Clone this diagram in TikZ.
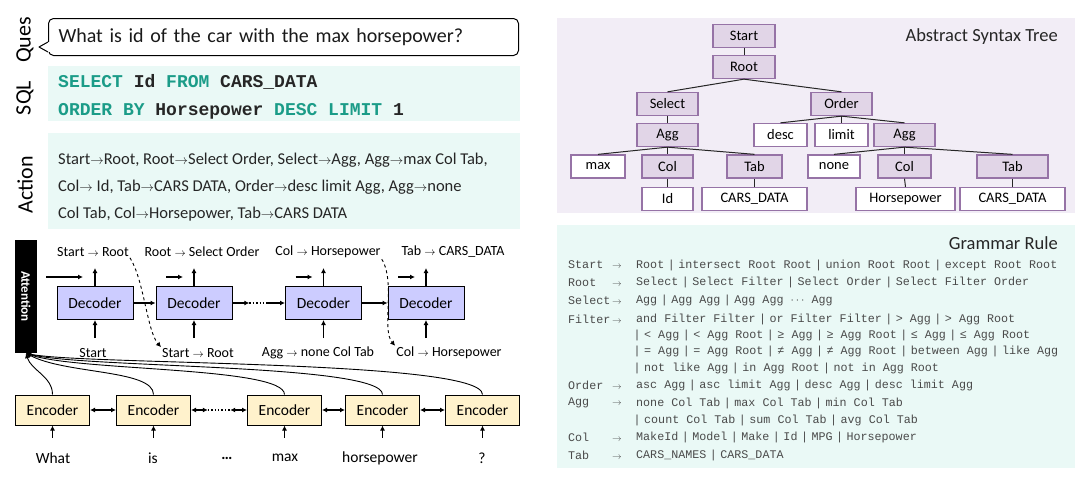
\documentclass[tikz,border=0pt]{standalone}
\usepackage{fontspec}
\setmainfont{Carlito}
\newfontfamily\monofont{Liberation Mono}
\usetikzlibrary{arrows.meta,calc}
\definecolor{teal1}{HTML}{1B9C88}
\definecolor{cyanbg}{HTML}{EAF9F6}
\definecolor{astbg}{HTML}{F2EDF6}
\definecolor{astfill}{HTML}{E1D5E7}
\definecolor{astline}{HTML}{9673A6}
\definecolor{decfill}{HTML}{CCCCFF}
\definecolor{encfill}{HTML}{FFF2CC}
\definecolor{gram}{HTML}{4A4A4A}
\newcommand\kw[1]{\textcolor{teal1}{#1}}
\newcommand\myarr{\scalebox{0.78}{$\rightarrow$}}
\newcommand\gsep{\makebox[14pt]{|}}
\newcommand\lhs[1]{\makebox[44pt][l]{#1}\scalebox{0.8}{$\rightarrow$}}
\begin{document}
\begin{tikzpicture}[x=1pt,y=-1pt,>={Latex[length=5pt,width=5pt]},
  sidelab/.style={rotate=90,font=\fontsize{22}{22}\selectfont},
  panel/.style={fill=cyanbg,draw=none,anchor=north west,inner sep=0pt},
  sqlt/.style={anchor=base west,inner sep=0pt,font=\monofont\bfseries\fontsize{18}{18}\selectfont,text=black!85},
  actt/.style={anchor=base west,inner sep=0pt,font=\fontsize{16.5}{16.5}\selectfont,text=black!85},
  dec/.style={draw,line width=1pt,fill=decfill,minimum width=76pt,minimum height=33pt,inner sep=0pt,font=\fontsize{15.5}{15.5}\selectfont},
  enc/.style={draw,line width=1pt,fill=encfill,minimum width=74pt,minimum height=30pt,inner sep=0pt,font=\fontsize{15.5}{15.5}\selectfont},
  dlab/.style={inner sep=1pt,font=\fontsize{14}{14}\selectfont},
  wlab/.style={inner sep=1pt,font=\fontsize{15.5}{15.5}\selectfont},
  arr/.style={->,line width=1.1pt},
  astn/.style={draw=astline,fill=astfill,line width=1.3pt,minimum height=23pt,inner sep=0pt,font=\fontsize{14.5}{14.5}\selectfont},
  astw/.style={astn,fill=white},
  astl/.style={line width=1pt,draw=black!85},
  gl/.style={anchor=west,inner sep=0pt,font=\monofont\fontsize{11.7}{11.7}\selectfont,text=gram},
  title/.style={anchor=east,inner sep=0pt,font=\fontsize{18.5}{18.5}\selectfont,text=black!85}
]
\useasboundingbox (0,0) rectangle (1080,482);

% ---------- left top ----------
\node[sidelab] (lq) at (25,40) {Ques};
\node[sidelab] (ls) at (25,98) {SQL};
\node[sidelab] (la) at (25,185) {Action};

\node[draw,line width=1pt,rounded corners=5pt,anchor=north west,minimum width=470pt,minimum height=37pt,
      text width=450pt,inner xsep=10pt,font=\fontsize{20}{20}\selectfont,text=black!90] (q) at (48,18)
      {What is id of the car with the max horsepower?};
\fill[white] ($(q.south west)+(-1.5,-14)$) rectangle ($(q.south west)+(1.5,-4)$);
\draw[line width=1pt,line join=round] ($(q.south west)+(0,-14)$) -- ($(q.south west)+(-9,-9)$) -- ($(q.south west)+(0,-4)$);

\node[panel,minimum width=472pt,minimum height=55pt] (sqlbox) at (48,66) {};
\node[sqlt] (s1) at (58,87) {\kw{SELECT} Id \kw{FROM} CARS\_DATA};
\node[sqlt] (s2) at (58,115) {\kw{ORDER BY} Horsepower \kw{DESC LIMIT} 1};

\node[panel,minimum width=472pt,minimum height=96pt] (actbox) at (48,133) {};
\node[actt] (a1) at (58,164) {Start\myarr Root, Root\myarr Select Order, Select\myarr Agg, Agg\myarr max Col Tab,};
\node[actt] (a2) at (58,191) {Col\myarr\ Id, Tab\myarr CARS DATA, Order\myarr desc limit Agg, Agg\myarr none};
\node[actt] (a3) at (58,218) {Col Tab, Col\myarr Horsepower, Tab\myarr CARS DATA};

% ---------- decoder / encoder ----------
\node[fill=black,minimum width=22pt,minimum height=113pt,inner sep=0pt] (att) at (26,296.5) {};
\node[rotate=-90,text=white,font=\bfseries\fontsize{13}{13}\selectfont] (attl) at (att.center) {Attention};

\node[dec] (d1) at (95,303) {Decoder};
\node[dec] (d2) at (194,303) {Decoder};
\node[dec] (d3) at (323.5,303) {Decoder};
\node[dec] (d4) at (426,303) {Decoder};

\node[dlab] (t1) at (93,252) {Start \myarr\ Root};
\node[dlab] (t2) at (202,252) {Root \myarr\ Select Order};
\node[dlab] (t3) at (328,252) {Col \myarr\ Horsepower};
\node[dlab] (t4) at (453,252) {Tab \myarr\ CARS\_DATA};

\node[dlab] (b1) at (93,353) {Start};
\node[dlab] (b2) at (198,353) {Start \myarr\ Root};
\node[dlab] (b3) at (318,353) {Agg \myarr\ none Col Tab};
\node[dlab] (b4) at (449,353) {Col \myarr\ Horsepower};

\foreach \d in {d1,d2,d3,d4}{
  \draw[arr] (\d.north) -- ++(0,-18);
  \draw[arr] ($(\d.south)+(0,18)$) -- (\d.south);
}
\draw[arr] ($(d1.north)+(-49,-9)$) -- ($(d1.north)+(-12,-9)$);
\foreach \d in {d2,d3,d4}{
  \draw[arr] ($(\d.north)+(-28,-9)$) -- ($(\d.north)+(-11,-9)$);
}
\draw[arr] (d1.east) -- (d2.west);
\path (d2.east) -- (d3.west) coordinate[pos=0.32] (dm1) coordinate[pos=0.68] (dm2);
\draw[arr] (d2.east) -- (dm1);
\draw[line width=1.4pt,dotted] (dm1) -- (dm2);
\draw[arr] (dm2) -- (d3.west);
\draw[arr] (d3.east) -- (d4.west);

\draw[->,line width=0.9pt,dashed] (t1.south east) .. controls +(14,22) and +(-14,-16) .. (b2.north west);
\draw[->,line width=0.9pt,dashed] (t3.south east) .. controls +(14,22) and +(-14,-16) .. (b4.north west);

\node[enc] (e1) at (52.5,410) {Encoder};
\node[enc] (e2) at (153.5,410) {Encoder};
\node[enc] (e3) at (284.5,410) {Encoder};
\node[enc] (e4) at (382.5,410) {Encoder};
\node[enc] (e5) at (482.5,410) {Encoder};

\node[wlab] (w1) at (53,458) {What};
\node[wlab] (w2) at (153,458) {is};
\node[wlab,font=\bfseries\fontsize{15.5}{15.5}\selectfont] (w3) at (227,458) {…};
\node[wlab] (w4) at (285,458) {max};
\node[wlab] (w5) at (380,458) {horsepower};
\node[wlab] (w6) at (482,458) {?};

\foreach \e in {e1,e2,e3,e4,e5}{
  \draw[arr] ($(\e.south)+(0,12)$) -- (\e.south);
}
\draw[<->,line width=1.1pt] (e1.east) -- (e2.west);
\path (e2.east) -- (e3.west) coordinate[pos=0.3] (em1) coordinate[pos=0.7] (em2);
\draw[<->,line width=1.1pt] (e2.east) -- (em1);
\draw[line width=1.4pt,dotted] (em1) -- (em2);
\draw[<->,line width=1.1pt] (em2) -- (e3.west);
\draw[<->,line width=1.1pt] (e3.east) -- (e4.west);
\draw[<->,line width=1.1pt] (e4.east) -- (e5.west);

\draw[->,line width=0.9pt] (e1.north) .. controls +(0,-18) and +(5,17) .. (att.south);
\draw[->,line width=0.9pt] (e2.north) .. controls +(0,-25) and +(39,21) .. (att.south);
\draw[->,line width=0.9pt] (e3.north) .. controls +(0,-28) and +(49,18) .. (att.south);
\draw[->,line width=0.9pt] (e4.north) .. controls +(0,-31) and +(54,15) .. (att.south);
\draw[->,line width=0.9pt] (e5.north) .. controls +(0,-35) and +(54,12) .. (att.south);

% ---------- AST ----------
\node[fill=astbg,anchor=north west,minimum width=518pt,minimum height=195pt,inner sep=0pt] (astbox) at (557,18) {};
\node[title] (astt) at (1058,37) {Abstract Syntax Tree};

\node[astn,minimum width=62pt] (st) at (744,36) {Start};
\node[astn,minimum width=62pt] (rt) at (744,67) {Root};
\node[astn,minimum width=61pt] (sel) at (667.5,104) {Select};
\node[astn,minimum width=61pt] (ord) at (841.5,104) {Order};
\node[astn,minimum width=61pt] (ag1) at (667.5,135) {Agg};
\node[astw,minimum width=53pt] (dsc) at (780.5,135) {desc};
\node[astw,minimum width=53pt] (lim) at (841.5,135) {limit};
\node[astn,minimum width=61pt] (ag2) at (904.5,135) {Agg};
\node[astw,minimum width=54pt] (mx) at (598,166.5) {max};
\node[astn,minimum width=51pt] (c1) at (667.5,166.5) {Col};
\node[astn,minimum width=55pt] (tb1) at (754.5,166.5) {Tab};
\node[astw,minimum width=52pt] (nn) at (834,166.5) {none};
\node[astn,minimum width=53pt] (c2) at (904.5,166.5) {Col};
\node[astn,minimum width=71pt] (tb2) at (1012.5,166.5) {Tab};
\node[astw,minimum width=51pt] (idn) at (667.5,199) {Id};
\node[astw,minimum width=105pt] (cd1) at (754.5,199) {CARS\_DATA};
\node[astw,minimum width=99pt] (hp) at (905.5,199) {Horsepower};
\node[astw,minimum width=105pt] (cd2) at (1012.5,199) {CARS\_DATA};

\draw[astl] (st.south) -- (rt.north);
\draw[astl] (rt.south) -- (sel.north);
\draw[astl] (rt.south) -- (ord.north);
\draw[astl] (sel.south) -- (ag1.north);
\draw[astl] (ag1.south) -- (mx.north);
\draw[astl] (ag1.south) -- (c1.north);
\draw[astl] (ag1.south) -- (tb1.north);
\draw[astl] (ord.south) -- (dsc.north);
\draw[astl] (ord.south) -- (lim.north);
\draw[astl] (ord.south) -- (ag2.north);
\draw[astl] (ag2.south) -- (nn.north);
\draw[astl] (ag2.south) -- (c2.north);
\draw[astl] (ag2.south) -- (tb2.north);
\draw[astl] (c1.south) -- (idn.north);
\draw[astl] (tb1.south) -- (cd1.north);
\draw[astl] (c2.south) -- (hp.north);
\draw[astl] (tb2.south) -- (cd2.north);

% ---------- Grammar ----------
\node[fill=cyanbg,anchor=north west,minimum width=518pt,minimum height=243pt,inner sep=0pt] (grbox) at (557,225) {};
\node[title] (grt) at (1058,243) {Grammar Rule};

\node[gl] (g1l) at (568,265) {\lhs{Start}};
\node[gl] (g1) at (636,265) {Root\gsep{}intersect Root Root\gsep{}union Root Root\gsep{}except Root Root};
\node[gl] (g2l) at (568,282.7) {\lhs{Root}};
\node[gl] (g2) at (636,282.7) {Select\gsep{}Select Filter\gsep{}Select Order\gsep{}Select Filter Order};
\node[gl] (g3l) at (568,300.7) {\lhs{Select}};
\node[gl] (g3) at (636,300.7) {Agg\gsep{}Agg Agg\gsep{}Agg Agg $\cdots$ Agg};
\node[gl] (g4l) at (568,319) {\lhs{Filter}};
\node[gl] (g4) at (636,319) {and Filter Filter\gsep{}or Filter Filter\gsep{}> Agg\gsep{}> Agg Root};
\node[gl] (g5) at (630,335) {\gsep{}< Agg\gsep{}< Agg Root\gsep{}≥ Agg\gsep{}≥ Agg Root\gsep{}≤ Agg\gsep{}≤ Agg Root};
\node[gl] (g6) at (630,351.7) {\gsep{}= Agg\gsep{}= Agg Root\gsep{}≠ Agg\gsep{}≠ Agg Root\gsep{}between Agg\gsep{}like Agg};
\node[gl] (g7) at (630,368.3) {\gsep{}not like Agg\gsep{}in Agg Root\gsep{}not in Agg Root};
\node[gl] (g8l) at (568,385.7) {\lhs{Order}};
\node[gl] (g8) at (636,385.7) {asc Agg\gsep{}asc limit Agg\gsep{}desc Agg\gsep{}desc limit Agg};
\node[gl] (g9l) at (568,403.3) {\lhs{Agg}};
\node[gl] (g9) at (636,403.3) {none Col Tab\gsep{}max Col Tab\gsep{}min Col Tab};
\node[gl] (g10) at (630,420) {\gsep{}count Col Tab\gsep{}sum Col Tab\gsep{}avg Col Tab};
\node[gl] (g11l) at (568,437.3) {\lhs{Col}};
\node[gl] (g11) at (636,437.3) {MakeId\gsep{}Model\gsep{}Make\gsep{}Id\gsep{}MPG\gsep{}Horsepower};
\node[gl] (g12l) at (568,455) {\lhs{Tab}};
\node[gl] (g12) at (636,455) {CARS\_NAMES\gsep{}CARS\_DATA};
\end{tikzpicture}
\end{document}
